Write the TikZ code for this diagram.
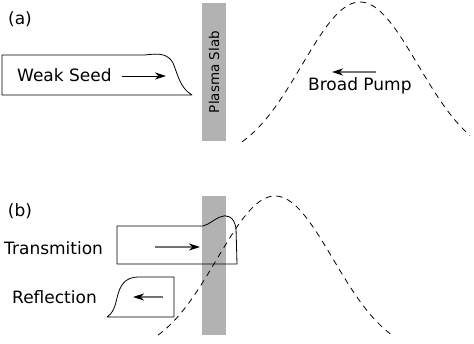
\documentclass[tikz,border=0pt]{standalone}
\usepackage{fontspec}
\setmainfont{DejaVu Sans}
\usepackage{tikz}
\usetikzlibrary{arrows.meta}
\tikzset{
    pulse/.style={black,line width=0.8pt,line join=round},
    slab/.style={fill=black!30,draw=none,minimum width=24pt,inner sep=0pt},
    pump/.style={black,line width=0.8pt,dash pattern=on 6pt off 5pt},
    beam/.style={black!55,line width=1.1pt,-{Stealth[black,length=11pt,width=7pt,inset=3.5pt]}},
    seedbeam/.style={beam,black,line width=0.8pt},
    lbl/.style={font=\fontsize{17}{20}\selectfont,inner sep=0pt},
    tag/.style={font=\fontsize{17}{20}\selectfont,inner sep=0pt}
}

\begin{document}
\begin{tikzpicture}[x=1pt,y=-1pt]
\useasboundingbox(0,0)rectangle(474,344);

% (a)
\node[tag] (taga) at (20,19.5) {(a)};
\node[slab,rotate=90,minimum width=138pt,minimum height=24pt,font=\fontsize{13.5}{15}\selectfont] (slaba) at (214,72) {Plasma Slab};
\draw[pulse](2,55)--(145,55)..controls(160,53)and(168,54)..(173,63)
    ..controls(178,75)and(180,88)..(192,95)--(2,95)--cycle;
\node[lbl,anchor=base west] (seed) at (17,82) {Weak Seed};
\coordinate (seeds) at (122,76);
\coordinate (seede) at (166,76);
\draw[seedbeam](seeds)--(seede);
\draw[pump] plot[domain=-118:110,samples=80] ({360+\x},{2+160*(1-exp(-0.5*(\x/58)*(\x/58)))});
\node[lbl,anchor=base west] (pumpa) at (308,91) {Broad Pump};
\coordinate (pumps) at (376,72);
\coordinate (pumpe) at (332,72);
\draw[beam](pumps)--(pumpe);

% (b)
\node[tag] (tagb) at (20,211) {(b)};
\node[slab,minimum width=24pt,minimum height=139pt] (slabb) at (214,265.5) {};
\draw[pulse](117,226)--(203,226)..controls(210,224)and(213,220)..(220,217)
    ..controls(226,214)and(234,216)..(236,228)--(237,264)--(117,264)--cycle;
\draw[pulse](174,277)--(174,317)--(107,317)..controls(118,310)and(115,295)..(122,285)
    ..controls(127,278)and(132,277)..(140,277)--cycle;
\draw[pump] plot[domain=-117:117,samples=80] ({275+\x},{196+160*(1-exp(-0.5*(\x/58)*(\x/58)))});
\node[lbl,anchor=base west] (trans) at (4,255) {Transmition};
\node[lbl,anchor=base west] (refl) at (12,304) {Reflection};
\coordinate (transs) at (155,247);
\coordinate (transe) at (200,247);
\draw[beam](transs)--(transe);
\coordinate (refls) at (163,297);
\coordinate (refle) at (133,297);
\draw[beam](refls)--(refle);
\end{tikzpicture}
\end{document}
